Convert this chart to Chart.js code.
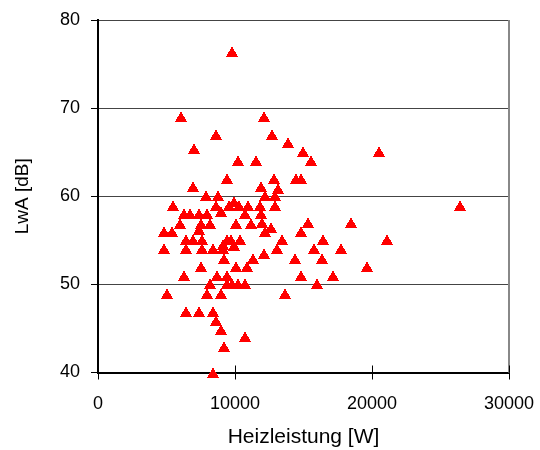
<!DOCTYPE html>
<html>
<head>
<meta charset="utf-8">
<script src="https://cdn.jsdelivr.net/npm/chart.js@4/dist/chart.umd.min.js"></script>
<style>
  body { margin: 0; background: #fff; }
</style>
</head>
<body>
<canvas id="myChart" width="540" height="450"></canvas>
<script>
// Heizleistung [W] per unit
const heatOutput = [
  9800, 6050, 12100, 8600, 12700, 7000, 13900, 10200, 11550, 14950,
  15550, 20500, 9400, 12850, 14450, 14850, 6950, 11900, 13150, 7850,
  8750, 9900, 12200, 12950, 5450, 8600, 9550, 10300, 10950, 11850,
  12950, 6300, 6750, 7350, 7950, 8950, 10750, 11900, 6000, 7550,
  8200, 7350, 10100, 11200, 12000, 12650, 15300, 18450, 4800, 5400,
  12200, 14850, 6450, 6900, 7600, 9450, 9700, 10400, 13450, 16450,
  21100, 9150, 9900, 4800, 6450, 7600, 8400, 9150, 13100, 15750,
  17750, 12150, 9200, 11350, 14400, 16350, 7550, 10100, 10850, 19600,
  6300, 8650, 9450, 14850, 17150, 8200, 9400, 9750, 10250, 10750,
  16000, 5000, 7950, 9000, 13650, 6400, 7350, 8400, 8600, 8950,
  10700, 9200, 8400, 26400
];

// LwA [dB] per unit
const soundPower = [
  76.4, 69, 69, 67, 67, 65.4, 66, 64, 64, 65,
  64, 65, 62, 62, 62, 62, 61, 61, 60.8, 60,
  60, 59.4, 60, 60, 58.9, 58.9, 58.9, 58.9, 58.9, 58.9,
  58.9, 58, 58, 58, 58, 58.2, 58, 58, 56.9, 56.9,
  56.9, 56.2, 56.9, 56.9, 57, 56.4, 57, 57, 56, 56,
  56, 56, 55, 55, 55, 55, 55, 55, 55, 55,
  55, 54.5, 54.4, 54, 54, 54, 54, 54, 54, 54,
  54, 53.5, 52.9, 52.9, 52.9, 52.9, 52, 52, 52, 52,
  50.9, 50.9, 50.9, 50.9, 50.9, 50, 50, 50, 50, 50,
  50, 48.9, 48.9, 48.9, 48.9, 46.9, 46.9, 46.9, 45.9, 44.8,
  44, 42.9, 40, 58.9
];

const xTicks = [0, 10000, 20000, 30000];
const yTicks = [40, 50, 60, 70, 80];

const points = heatOutput.map((x, i) => ({ x: x, y: soundPower[i] }));

// marker like excel: solid triangle centred on its box, no soft edges
const marker = document.createElement('canvas');
marker.width = 12;
marker.height = 10;
const mctx = marker.getContext('2d');
mctx.fillStyle = '#ff0000';
for (let r = 0; r < 10; r++) {
  const half = Math.round((r + 1) * 0.6);
  mctx.fillRect(6 - half, r, half * 2, 1);
}

// extra bits: ticks crossing the x axis, grey frame on the right
const framePlugin = {
  id: 'frame',
  beforeDatasetsDraw(chart) {
    chart.ctx.imageSmoothingEnabled = false;
  },
  afterDraw(chart) {
    const ctx = chart.ctx;
    const area = chart.chartArea;
    const xs = chart.scales.x;
    ctx.save();
    ctx.strokeStyle = '#888';
    ctx.lineWidth = 2;
    ctx.beginPath();
    ctx.moveTo(area.right, area.top);
    ctx.lineTo(area.right, area.bottom);
    ctx.stroke();
    ctx.strokeStyle = '#000';
    ctx.lineWidth = 1;
    xTicks.forEach(v => {
      const px = Math.round(xs.getPixelForValue(v)) + 0.5;
      ctx.beginPath();
      ctx.moveTo(px, area.bottom - 7);
      ctx.lineTo(px, area.bottom);
      ctx.stroke();
    });
    ctx.restore();
  }
};

const config = {
  type: 'scatter',
  data: {
    datasets: [{
      data: points,
      pointStyle: marker,
      pointRadius: 7,
      clip: false,
      backgroundColor: '#ff0000',
      borderColor: '#ff0000',
    }]
  },
  options: {
    responsive: false,
    animation: false,
    layout: {
      padding: { top: 20, right: 31, left: 0, bottom: 0 }
    },
    scales: {
      x: {
        type: 'linear',
        min: 0,
        max: 30000,
        afterFit: (s) => { s.height = 77.5; s.paddingLeft = 0; s.paddingRight = 0; },
        afterBuildTicks: (s) => { s.ticks = xTicks.map(v => ({ value: v })); },
        grid: {
          drawOnChartArea: false,
          tickLength: 7,
          color: '#000',
        },
        border: { color: '#000', width: 2 },
        ticks: {
          color: '#000',
          padding: 14,
          maxRotation: 0,
          font: { family: 'Liberation Sans, Arial', size: 18 },
          callback: (v) => String(v),
        },
        title: {
          display: true,
          text: 'Heizleistung [W]',
          color: '#000',
          padding: 0,
          font: { family: 'Liberation Sans, Arial', size: 21 },
        }
      },
      y: {
        min: 40,
        max: 80,
        afterFit: (s) => { s.width = 98; s.paddingTop = 0; s.paddingBottom = 0; },
        afterBuildTicks: (s) => { s.ticks = yTicks.map(v => ({ value: v })); },
        grid: {
          color: '#444',
          tickColor: '#000',
          tickLength: 7,
          lineWidth: 1,
        },
        border: { color: '#000', width: 2 },
        ticks: {
          color: '#000',
          padding: 11,
          font: { family: 'Liberation Sans, Arial', size: 18 },
        },
        title: {
          display: true,
          text: 'LwA [dB]',
          color: '#000',
          padding: { top: 11, bottom: 0 },
          font: { family: 'Liberation Sans, Arial', size: 19 },
        }
      }
    },
    plugins: {
      legend: { display: false },
      tooltip: { enabled: false }
    }
  },
  plugins: [framePlugin]
};

const myChart = new Chart(document.getElementById('myChart'), config);
</script>
</body>
</html>
